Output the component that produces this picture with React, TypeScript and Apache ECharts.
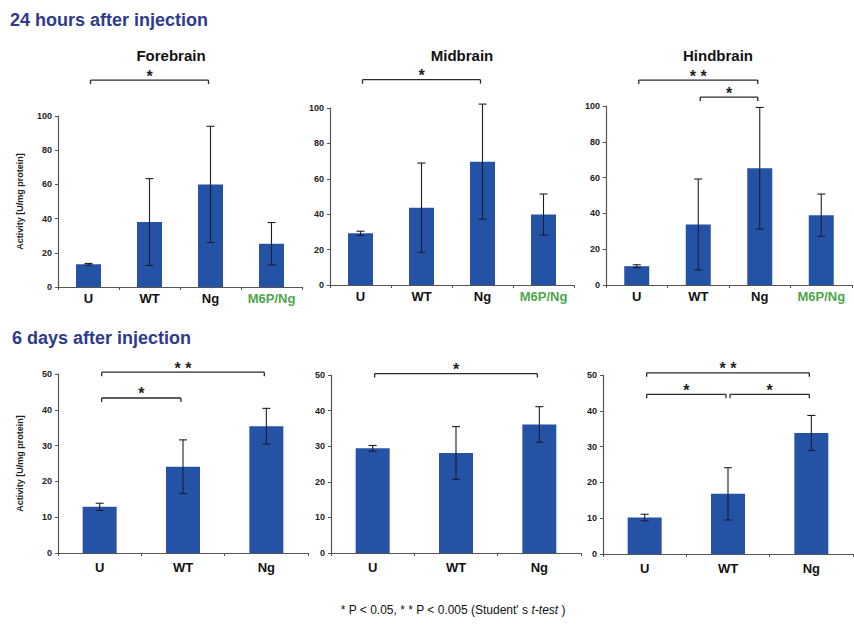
import React, { useEffect, useRef } from "react";
import * as echarts from "echarts";

const catsTop = ["U", "WT", "Ng", "M6P/Ng"];
const catsBottom = ["U", "WT", "Ng"];

// 24 hours after injection
const fore24 = [13.3, 38, 60, 25.3];
const fore24Err = [0.5, 25.4, 34, 12.4];
const mid24 = [29.2, 43.7, 69.7, 39.8];
const mid24Err = [1.2, 25.2, 32.5, 11.6];
const hind24 = [10.5, 33.8, 65.2, 39];
const hind24Err = [0.8, 25.4, 34, 11.8];

// 6 days after injection
const fore6 = [12.9, 24.1, 35.4];
const fore6Err = [1, 7.5, 5];
const mid6 = [29.4, 28.1, 36.1];
const mid6Err = [0.8, 7.4, 5];
const hind6 = [10.2, 16.8, 33.8];
const hind6Err = [0.9, 7.3, 4.9];

// significance brackets: [fromIndex, toIndex, level (axis units)], with labels
const fore24Brackets = [[0, 2, 121]];
const fore24Stars = ["*"];
const mid24Brackets = [[0, 2, 116]];
const mid24Stars = ["*"];
const hind24Brackets = [[0, 2, 114.5], [1, 2, 105]];
const hind24Stars = ["* *", "*"];
const fore6Brackets = [[0, 2, 50.5], [0, 1, 43.3]];
const fore6Stars = ["* *", "*"];
const mid6Brackets = [[0, 2, 50.4]];
const mid6Stars = ["*"];
const hind6Brackets = [[0, 2, 50.6], [0, 1, 44.6], [1, 2, 44.6]];
const hind6Stars = ["* *", "*", "*"];

const panelTitles = ["Forebrain", "Midbrain", "Hindbrain"];
const yName = "Activity [U/mg protein]";

const BAR = "#2453a6";
const GREEN = "#4ea64a";
const FONT = "'Liberation Sans', Arial, sans-serif";

export default function App() {
  const ref = useRef<HTMLDivElement>(null);

  useEffect(() => {
    if (!ref.current) return;
    const chart = echarts.init(ref.current, undefined, { renderer: "svg" });

    const grids = [
      { left: 58, top: 116, width: 244, height: 171 },
      { left: 330, top: 108, width: 244, height: 177 },
      { left: 606, top: 106, width: 246, height: 179 },
      { left: 58, top: 374, width: 250, height: 179 },
      { left: 331, top: 375, width: 250, height: 178 },
      { left: 603, top: 375, width: 250, height: 179 },
    ];

    const panels = [
      { cats: catsTop, vals: fore24, err: fore24Err, br: fore24Brackets, st: fore24Stars, max: 100, interval: 20, top: true },
      { cats: catsTop, vals: mid24, err: mid24Err, br: mid24Brackets, st: mid24Stars, max: 100, interval: 20, top: true },
      { cats: catsTop, vals: hind24, err: hind24Err, br: hind24Brackets, st: hind24Stars, max: 100, interval: 20, top: true },
      { cats: catsBottom, vals: fore6, err: fore6Err, br: fore6Brackets, st: fore6Stars, max: 50, interval: 10, top: false },
      { cats: catsBottom, vals: mid6, err: mid6Err, br: mid6Brackets, st: mid6Stars, max: 50, interval: 10, top: false },
      { cats: catsBottom, vals: hind6, err: hind6Err, br: hind6Brackets, st: hind6Stars, max: 50, interval: 10, top: false },
    ];

    const xAxis: any[] = [];
    const yAxis: any[] = [];
    const series: any[] = [];

    panels.forEach((p, i) => {
      xAxis.push({
        type: "category",
        gridIndex: i,
        data: p.cats.map((c) =>
          c === "M6P/Ng" ? { value: c, textStyle: { color: GREEN } } : c
        ),
        axisLine: { lineStyle: { color: "#555", width: 1.2 } },
        axisTick: { show: true, length: 3, interval: 0, lineStyle: { color: "#555" } },
        axisLabel: {
          interval: 0,
          color: "#111",
          fontSize: 13,
          fontWeight: "bold",
          fontFamily: FONT,
          margin: p.top ? 5 : 8,
        },
      });
      yAxis.push({
        type: "value",
        gridIndex: i,
        min: 0,
        max: p.max,
        interval: p.interval,
        name: i === 0 || i === 3 ? yName : "",
        nameLocation: "middle",
        nameGap: 34,
        nameRotate: 90,
        nameTextStyle: { fontSize: 9, fontWeight: "bold", color: "#222", fontFamily: FONT },
        axisLine: { show: true, lineStyle: { color: "#555", width: 1.2 } },
        axisTick: { show: true, length: 3, lineStyle: { color: "#555" } },
        axisLabel: { fontSize: 9, fontWeight: "bold", color: "#222", fontFamily: FONT, margin: 6 },
        splitLine: { show: false },
      });
      series.push({
        type: "bar",
        xAxisIndex: i,
        yAxisIndex: i,
        data: p.vals,
        barWidth: p.top ? 25 : 34,
        itemStyle: { color: BAR },
        silent: true,
      });
      series.push({
        type: "custom",
        xAxisIndex: i,
        yAxisIndex: i,
        clip: false,
        z: 5,
        data: p.vals.map((v, k) => [k, v, p.err[k]]),
        encode: { x: 0, y: 1 },
        renderItem: (params: any, api: any) => {
          const x = api.value(0);
          const v = api.value(1);
          const e = api.value(2);
          const hi = api.coord([x, v + e]);
          const lo = api.coord([x, v - e]);
          const cw = 4;
          const style = { stroke: "#1c1c30", lineWidth: 1.1 };
          return {
            type: "group",
            children: [
              { type: "line", shape: { x1: hi[0], y1: hi[1], x2: lo[0], y2: lo[1] }, style },
              { type: "line", shape: { x1: hi[0] - cw, y1: hi[1], x2: hi[0] + cw, y2: hi[1] }, style },
              { type: "line", shape: { x1: lo[0] - cw, y1: lo[1], x2: lo[0] + cw, y2: lo[1] }, style },
            ],
          };
        },
      });
      series.push({
        type: "custom",
        xAxisIndex: i,
        yAxisIndex: i,
        clip: false,
        z: 5,
        data: p.br,
        encode: { x: [0, 1], y: 2 },
        renderItem: (params: any, api: any) => {
          const a = api.value(0);
          const b = api.value(1);
          const lvl = api.value(2);
          const p1 = api.coord([a, lvl]);
          const p2 = api.coord([b, lvl]);
          const x1 = p1[0] + 2;
          const x2 = p2[0] - 2;
          const y = p1[1];
          const style = { stroke: "#2a2a2a", lineWidth: 1.3 };
          return {
            type: "group",
            children: [
              { type: "line", shape: { x1, y1: y, x2, y2: y }, style },
              { type: "line", shape: { x1, y1: y, x2: x1, y2: y + 4 }, style },
              { type: "line", shape: { x1: x2, y1: y, x2, y2: y + 4 }, style },
              {
                type: "text",
                style: {
                  text: p.st[params.dataIndex],
                  x: (x1 + x2) / 2,
                  y: y - 4,
                  align: "center",
                  verticalAlign: "middle",
                  fontSize: 16,
                  fontWeight: "bold",
                  fontFamily: FONT,
                  fill: "#222",
                },
              },
            ],
          };
        },
      });
    });

    const panelTitleX = [171, 462, 718];

    chart.setOption({
      animation: false,
      backgroundColor: "#ffffff",
      grid: grids,
      xAxis,
      yAxis,
      series,
      graphic: [
        {
          type: "text",
          left: 10,
          top: 11,
          style: {
            text: "24 hours after injection",
            fontSize: 18,
            fontWeight: "bold",
            fontFamily: FONT,
            fill: "#2e3a8c",
          },
        },
        {
          type: "text",
          left: 12,
          top: 329,
          style: {
            text: "6 days after injection",
            fontSize: 18,
            fontWeight: "bold",
            fontFamily: FONT,
            fill: "#2e3a8c",
          },
        },
        ...panelTitles.map((t, k) => ({
          type: "text",
          x: panelTitleX[k],
          y: 55,
          style: {
            text: t,
            align: "center",
            verticalAlign: "middle",
            fontSize: 15,
            fontWeight: "bold",
            fontFamily: FONT,
            fill: "#111",
          },
        })),
        {
          type: "text",
          x: 453,
          y: 610,
          style: {
            text: "* P < 0.05, * * P < 0.005 (Student' s {i|t-test} )",
            align: "center",
            verticalAlign: "middle",
            fontSize: 12,
            fontFamily: FONT,
            fill: "#111",
            rich: {
              i: { fontSize: 12, fontStyle: "italic", fontFamily: FONT, fill: "#111" },
            },
          },
        },
      ],
    });

    return () => chart.dispose();
  }, []);

  return (
    <div
      ref={ref}
      style={{ position: "fixed", left: 0, top: 0, width: 854, height: 626, background: "#fff" }}
    />
  );
}
